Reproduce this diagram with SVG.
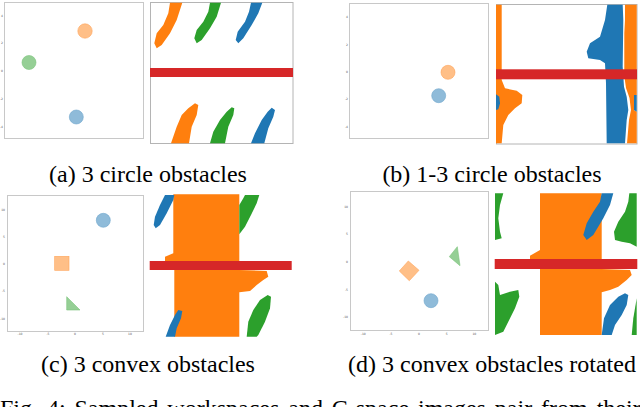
<svg xmlns="http://www.w3.org/2000/svg" width="640" height="407" viewBox="0 0 640 407">
<style>
.frame{fill:#fff;stroke:#c8c8c8;stroke-width:1}
.cframe{fill:#fff;stroke:#b4b4b4;stroke-width:1}
.o{fill:#ff7f0e}.g{fill:#2ca02c}.b{fill:#1f77b4}.r{fill:#d62728}
.oa{fill:#ffbf87;stroke:#ffa55a;stroke-width:0.6}
.ga{fill:#95cf95;stroke:#7cc47c;stroke-width:0.6}
.ba{fill:#8fbbd9;stroke:#6fa6cd;stroke-width:0.6}
.tick{font-family:"DejaVu Sans",sans-serif;font-size:3px;fill:#555}
.cap{font-family:"Liberation Serif","Times New Roman",serif;font-size:24px;fill:#000}
</style>
<rect width="640" height="407" fill="#fff"/>

<g id="panel-a-workspace">
<rect class="frame" x="4.5" y="2.5" width="139" height="136"/>
<g class="tick" text-anchor="end"><text x="3" y="17">4</text><text x="3" y="44">2</text><text x="3" y="72">0</text><text x="3" y="100">-2</text><text x="3" y="128">-4</text></g>
<circle class="oa" cx="85" cy="31" r="7.2"/>
<circle class="ga" cx="29" cy="62.5" r="7"/>
<circle class="ba" cx="76.3" cy="117" r="7"/>
</g>

<g id="panel-a-cspace">
<rect class="cframe" x="150.5" y="2.5" width="142.5" height="141"/>
<path class="o" d="M170,2.7 L182.3,2.7 L176.7,20 L170,33.3 L161.7,45 L156.7,48.3 L154.3,43.3 L156.7,33.3 L163.3,25 L168.3,13.3 Z"/>
<path class="g" d="M210,2.7 L221,2.7 L216.7,16.7 L210,28.3 L201.7,40 L196.7,43.3 L194.3,38.3 L196.7,30 L203.3,21.7 L208.3,11.7 Z"/>
<path class="b" d="M251,2.7 L262.3,2.7 L258.3,13.3 L251.7,25 L243.3,38.3 L238.3,43.3 L235.7,40 L237.7,31.7 L245,21.7 L249,11.7 Z"/>
<path class="o" d="M195,103.3 L198.3,105 L196.7,115 L191.7,126.7 L189,143.3 L171,143.3 L176.7,126.7 L181.7,115 L188.3,108.3 Z"/>
<path class="g" d="M231.7,107.3 L234.3,108.3 L233.3,115 L228.3,126.7 L225,143.3 L210,143.3 L213.3,131.7 L220,120 L226.7,111.7 Z"/>
<path class="b" d="M271.7,107.7 L275,110 L273.3,116.7 L268.3,128.3 L264.3,143.3 L251,143.3 L255,133.3 L261.7,120 L267.7,111.7 Z"/>
<rect class="r" x="150" y="68" width="143" height="9"/>
</g>

<g id="panel-b-workspace">
<rect class="frame" x="349.5" y="3.5" width="139" height="135"/>
<g class="tick" text-anchor="end"><text x="348" y="18">4</text><text x="348" y="46">2</text><text x="348" y="73">0</text><text x="348" y="100">-2</text><text x="348" y="128">-4</text></g>
<circle class="oa" cx="448" cy="72.3" r="7"/>
<circle class="ba" cx="438.7" cy="95.7" r="7"/>
</g>

<g id="panel-b-cspace">
<rect class="cframe" x="496.5" y="4.5" width="140.5" height="139.5"/>
<path class="o" d="M496,4.7 L501.7,4.7 L501.7,80 L505,88.3 L516.7,90.7 L522.3,95 L521.7,103.3 L515,108.3 L508.3,115 L503.3,125 L501.7,143.3 L496,143.3 Z"/>
<path class="b" d="M496,94.3 L499.3,96.7 L500,103.3 L498.3,109.3 L496,110 Z"/>
<path class="b" d="M607.3,4.7 L622.7,4.7 L623.3,20 L622.7,66.7 L624,86.7 L626.7,96.7 L628.3,110 L626.7,120 L625,143.3 L606.7,143.3 L606,83.3 L605,63.3 L600,60 L588.3,58.3 L586.7,51.7 L590,43.3 L600,36.7 L605,20 Z"/>
<path class="o" d="M625,4.7 L636.7,4.7 L636.7,95 L634,96.7 L634,110 L636.7,111.7 L636.7,143.3 L627,143.3 L629,120 L631,110 L629.5,98 L626,88 L624.3,76 L624.3,33 L625,20 Z"/>
<path class="b" d="M634,95 L636.7,95 L636.7,111.7 L634,110 Z"/>
<rect class="r" x="496" y="69.3" width="141" height="10"/>
</g>

<g id="panel-c-workspace">
<rect class="frame" x="7.5" y="195.5" width="136" height="136"/>
<g class="tick" text-anchor="end"><text x="5" y="211">10</text><text x="5" y="238">5</text><text x="5" y="265">0</text><text x="5" y="292">-5</text><text x="5" y="320">-10</text></g>
<g class="tick" text-anchor="middle"><text x="20" y="335">-10</text><text x="48" y="335">-5</text><text x="75" y="335">0</text><text x="103" y="335">5</text><text x="130" y="335">10</text></g>
<circle class="ba" cx="103.3" cy="220.3" r="7"/>
<rect class="oa" x="54.7" y="256.3" width="14.3" height="14"/>
<path class="ga" d="M66.7,296.7 L66.7,310 L80,310 Z"/>
</g>

<g id="panel-c-cspace">
<path class="o" d="M173.3,194.3 L239.3,194.3 L239.3,270 L266.7,271 L268.3,276.7 L263.3,280 L256.7,285 L250,291 L239.3,292.3 L239.3,336.7 L174.3,336.7 L174.3,265 L165,263.3 L165,256.7 L173.3,253.3 Z"/>
<path class="b" d="M165,195 L174.3,195 L173.3,200 L166.7,213.3 L160,225 L155.7,228.3 L153.7,225 L155,216.7 L160,205 Z"/>
<path class="g" d="M245,195 L259.3,195 L256.7,203.3 L251,215 L245,226.7 L239.3,234.3 L239.3,205 L243.3,198.3 Z"/>
<path class="b" d="M178.3,310 L182.3,311 L181,318.3 L176.7,328.3 L175,336.7 L165.7,336.7 L170,325 L175,315 Z"/>
<path class="g" d="M267.7,295 L271,296.7 L270,308.3 L265,321.7 L258.3,335 L256.7,336.7 L246.7,336.7 L248.3,321.7 L253.3,310 L260,300 Z"/>
<rect class="r" x="149.7" y="261" width="142" height="9"/>
</g>

<g id="panel-d-workspace">
<rect class="frame" x="350.5" y="191.5" width="138" height="139"/>
<g class="tick" text-anchor="end"><text x="348" y="208">10</text><text x="348" y="235">5</text><text x="348" y="263">0</text><text x="348" y="291">-5</text><text x="348" y="318">-10</text></g>
<g class="tick" text-anchor="middle"><text x="363.3" y="335">-10</text><text x="391" y="335">-5</text><text x="419" y="335">0</text><text x="446.7" y="335">5</text><text x="474.3" y="335">10</text></g>
<path class="oa" d="M408.3,261 L419,270.3 L409.3,280.7 L399.3,271 Z"/>
<path class="ga" d="M457.3,246.7 L460,265.7 L449.3,256.7 Z"/>
<circle class="ba" cx="431" cy="300.7" r="7"/>
</g>

<g id="panel-d-cspace">
<path class="o" d="M540,193.3 L601.7,193.3 L601.7,269 L630,270 L631.7,275 L626.7,280 L618.3,286.7 L610,290 L601.7,292.3 L601.7,335 L540,335 L540,269 L530,266.7 L530,255.7 L540,250 Z"/>
<path class="b" d="M601.7,193.3 L613.3,193.3 L610,205 L603.3,218.3 L593.3,235 L586.7,240 L583.3,235 L586.7,223.3 L593.3,211.7 L600,201.7 Z"/>
<path class="b" d="M625,293.3 L628.3,295 L626.7,305 L621.7,315 L615,325 L611.7,335 L601.7,335 L604,318.3 L610,305 L618.3,296.7 Z"/>
<path class="g" d="M495,193.3 L503.3,193.3 L500,205 L498.3,218.3 L500,231.7 L501.7,238.3 L495,240 Z"/>
<path class="g" d="M629.3,193.3 L636.7,193.3 L636.7,246.7 L630,243.3 L621.7,241.7 L615,240 L614,231.7 L618.3,221.7 L625,211.7 L628.3,201.7 Z"/>
<path class="g" d="M495,281.7 L498.3,285 L500,295 L510,291.7 L518.3,290 L519.3,296.7 L515,308.3 L508.3,321.7 L503.3,331.7 L495,335 Z"/>
<path class="g" d="M636.7,298.3 L636.7,335 L631.7,335 L633.3,318.3 L635,308.3 Z"/>
<rect class="r" x="494.7" y="259" width="142.6" height="10"/>
</g>

<g id="captions" class="cap">
<text x="148" y="182" text-anchor="middle">(a) 3 circle obstacles</text>
<text x="492" y="182" text-anchor="middle">(b) 1-3 circle obstacles</text>
<text x="148" y="372" text-anchor="middle">(c) 3 convex obstacles</text>
<text x="492" y="372" text-anchor="middle">(d) 3 convex obstacles rotated</text>
<text x="0" y="416" word-spacing="2.9">Fig. 4: Sampled workspaces and C-space images pair from their</text>
</g>
</svg>
